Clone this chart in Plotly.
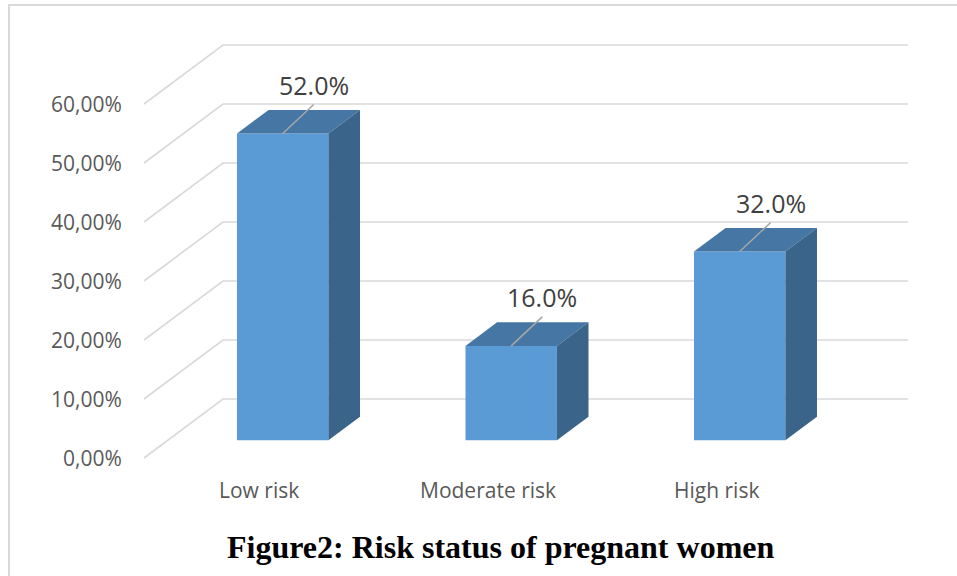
import plotly.graph_objects as go

# ---- data -------------------------------------------------------------
categories = ["Low risk", "Moderate risk", "High risk"]
shares = [52.0, 16.0, 32.0]  # percent of pregnant women
tick_values = [0, 10, 20, 30, 40, 50, 60]
tick_labels = ["0,00%", "10,00%", "20,00%", "30,00%", "40,00%", "50,00%", "60,00%"]
title_text = "Figure2: Risk status of pregnant women"

# ---- oblique 3-D projection onto a flat cartesian plot -----------------
W, H = 957, 576
PX_PER_CAT = 228.5          # horizontal pixels per category slot
PX_PER_PCT = 5.9            # vertical pixels per percentage point
ORIGIN_X, ORIGIN_Y = 259, 458   # front plane: first category, 0 %
DEPTH_X = 79 / PX_PER_CAT   # shift of the back wall, in category units
DEPTH_Y = 59 / PX_PER_PCT   # shift of the back wall, in percent units

WALL_LEFT = (144 - ORIGIN_X) / PX_PER_CAT
WALL_RIGHT = (908 - ORIGIN_X - 79) / PX_PER_CAT

BAR_HALF = 0.2
BAR_FRONT, BAR_BACK = 0.3, 0.7   # bar depth as a fraction of the floor

FRONT_COLOR = "#5b9bd5"
TOP_COLOR = "#4676a4"
SIDE_COLOR = "#3a6489"
GRID_COLOR = "#d9d9d9"


def proj(x, y, d):
    """Map a point (category x, value y, depth d in 0..1) to plot coords."""
    return x + DEPTH_X * d, y + DEPTH_Y * d


def polygon(points):
    xs, ys = zip(*[proj(*p) for p in points])
    return list(xs) + [xs[0]], list(ys) + [ys[0]]


fig = go.Figure()

# gridlines: diagonal on the side wall, horizontal on the back wall
gx, gy = [], []
for v in tick_values:
    for p in (proj(WALL_LEFT, v, 0), proj(WALL_LEFT, v, 1), proj(WALL_RIGHT, v, 1)):
        gx.append(p[0])
        gy.append(p[1])
    gx.append(None)
    gy.append(None)
fig.add_trace(go.Scatter(x=gx, y=gy, mode="lines",
                         line=dict(color=GRID_COLOR, width=1.6),
                         hoverinfo="skip"))

# the 3-D columns: front, top and right-hand faces
for i, v in enumerate(shares):
    l, r = i - BAR_HALF, i + BAR_HALF
    faces = [
        ([(l, 0, BAR_FRONT), (r, 0, BAR_FRONT), (r, v, BAR_FRONT), (l, v, BAR_FRONT)], FRONT_COLOR),
        ([(l, v, BAR_FRONT), (r, v, BAR_FRONT), (r, v, BAR_BACK), (l, v, BAR_BACK)], TOP_COLOR),
        ([(r, 0, BAR_FRONT), (r, 0, BAR_BACK), (r, v, BAR_BACK), (r, v, BAR_FRONT)], SIDE_COLOR),
    ]
    for pts, color in faces:
        xs, ys = polygon(pts)
        fig.add_trace(go.Scatter(x=xs, y=ys, mode="lines", fill="toself",
                                 fillcolor=color, line=dict(width=0, color=color),
                                 hoverinfo="skip"))

# leader lines from each column top to its data label
LEAD_DX = 31 / PX_PER_CAT
LEAD_DY = 29 / PX_PER_PCT
lx, ly = [], []
for i, v in enumerate(shares):
    x0, y0 = proj(i, v, BAR_FRONT)
    lx += [x0, x0 + LEAD_DX, None]
    ly += [y0, y0 + LEAD_DY, None]
fig.add_trace(go.Scatter(x=lx, y=ly, mode="lines",
                         line=dict(color="#a6a6a6", width=1.6),
                         hoverinfo="skip"))

annotations = []

# data labels
for i, v in enumerate(shares):
    x0, y0 = proj(i, v, BAR_FRONT)
    annotations.append(dict(x=x0, y=y0, xref="x", yref="y", text=f"{v:.1f}%",
                            showarrow=False, xanchor="center", yanchor="middle",
                            xshift=31, yshift=49,
                            font=dict(family="Open Sans", size=25, color="#404040")))

# value axis labels along the front edge of the side wall
for v, t in zip(tick_values, tick_labels):
    x0, y0 = proj(WALL_LEFT, v, 0)
    annotations.append(dict(x=x0, y=y0, xref="x", yref="y", text=t,
                            showarrow=False, xanchor="right", yanchor="middle",
                            xshift=-20,
                            font=dict(family="Open Sans", size=21, color="#595959")))

# category labels
for i, c in enumerate(categories):
    annotations.append(dict(x=i, y=0, xref="x", yref="y", text=c,
                            showarrow=False, xanchor="center", yanchor="middle",
                            yshift=-32,
                            font=dict(family="Open Sans", size=21, color="#595959")))

# caption
annotations.append(dict(x=500.5 / W, y=1 - 547 / H, xref="paper", yref="paper",
                        text=f"<b>{title_text}</b>", showarrow=False,
                        xanchor="center", yanchor="middle",
                        font=dict(family="Liberation Serif, Times New Roman, serif",
                                  size=32, color="#000000")))

fig.update_layout(
    width=W, height=H,
    margin=dict(l=0, r=0, t=0, b=0),
    paper_bgcolor="white", plot_bgcolor="white",
    showlegend=False,
    hovermode=False,
    xaxis=dict(range=[-ORIGIN_X / PX_PER_CAT, (W - ORIGIN_X) / PX_PER_CAT],
               visible=False, fixedrange=True),
    yaxis=dict(range=[(ORIGIN_Y - H) / PX_PER_PCT, ORIGIN_Y / PX_PER_PCT],
               visible=False, fixedrange=True),
    annotations=annotations,
    shapes=[dict(type="rect", xref="paper", yref="paper",
                 x0=9 / W, x1=1.05, y0=-0.05, y1=1 - 5 / H,
                 line=dict(color=GRID_COLOR, width=2), fillcolor="rgba(0,0,0,0)")],
)

fig.write_html("out.html")
